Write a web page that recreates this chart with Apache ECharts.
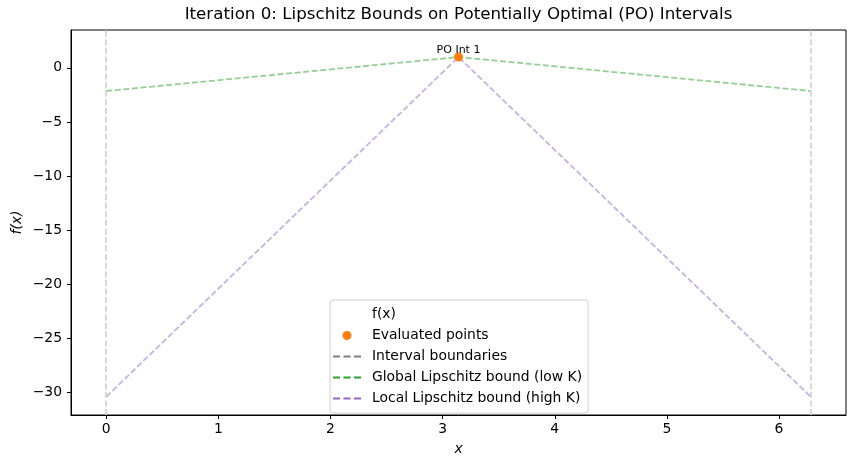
<!DOCTYPE html>
<html><head><meta charset="utf-8">
<script src="https://cdn.jsdelivr.net/npm/echarts@6/dist/echarts.min.js"></script>
<style>html,body{margin:0;padding:0;background:#fff}#c{width:855px;height:468px}</style>
</head><body><div id="c"></div>
<script>
const xTicks = [0, 1, 2, 3, 4, 5, 6];
const yTicks = [-30, -25, -20, -15, -10, -5, 0];
const evalX = [3.1416];
const evalY = [1];
const poLabels = ['PO Int 1'];
const boundaryX = [0, 6.2832];
const boundX = [0, 3.1416, 6.2832];
const lowKY = [-2.1416, 1, -2.1416];
const highKY = [-30.416, 1, -30.416];

const FONT = 'DejaVu Sans';
const minus = v => (v < 0 ? '\u2212' + Math.abs(v) : String(v));
const dashIcon = 'path://M0,0h7v2h-7z M10.5,0h7v2h-7z M21,0h7v2h-7z';

const chart = echarts.init(document.getElementById('c'), null, {renderer: 'canvas'});
chart.setOption({
  animation: false,
  backgroundColor: '#fff',
  title: {
    text: 'Iteration 0: Lipschitz Bounds on Potentially Optimal (PO) Intervals',
    left: 458.5, textAlign: 'center', top: 6, padding: 0,
    textStyle: {fontFamily: FONT, fontSize: 16.7, fontWeight: 'normal', color: '#000'}
  },
  grid: {left: 71, right: 9, top: 30, bottom: 53, show: true, borderColor: '#000', borderWidth: 1, backgroundColor: 'transparent'},
  xAxis: {
    type: 'value', min: -0.3142, max: 6.5974,
    name: 'x', nameLocation: 'middle', nameGap: 27,
    nameTextStyle: {fontFamily: FONT, fontSize: 13.9, fontStyle: 'italic', color: '#000'},
    axisLine: {show: true, onZero: false, lineStyle: {color: '#000', width: 1}},
    axisTick: {show: true, length: 4, customValues: xTicks, lineStyle: {color: '#000'}},
    axisLabel: {customValues: xTicks, formatter: minus, margin: 7, fontFamily: FONT, fontSize: 13.9, color: '#000'},
    splitLine: {show: false}
  },
  yAxis: {
    type: 'value', min: -32.1, max: 3.5,
    name: 'f(x)', nameLocation: 'middle', nameGap: 47, nameMoveOverlap: false,
    nameTextStyle: {fontFamily: FONT, fontSize: 13.9, fontStyle: 'italic', color: '#000'},
    axisLine: {show: true, onZero: false, lineStyle: {color: '#000', width: 1}},
    axisTick: {show: true, length: 4, customValues: yTicks, lineStyle: {color: '#000'}},
    axisLabel: {customValues: yTicks, formatter: minus, margin: 9, fontFamily: FONT, fontSize: 13.9, color: '#000'},
    splitLine: {show: false}
  },
  legend: {
    orient: 'vertical', left: 330, top: 300,
    padding: [4, 6, 4, 3],
    backgroundColor: '#fff', borderColor: '#d0d0d0', borderWidth: 1, borderRadius: 3,
    itemWidth: 28, itemHeight: 9, itemGap: 0,
    textStyle: {fontFamily: FONT, fontSize: 13.9, color: '#000', lineHeight: 21, padding: [0, 0, 0, 6]},
    data: [
      {name: 'f(x)', icon: 'none'},
      {name: 'Evaluated points', icon: 'circle', itemStyle: {color: '#ff7f0e'}},
      {name: 'Interval boundaries', icon: dashIcon, itemStyle: {color: '#808080'}},
      {name: 'Global Lipschitz bound (low K)', icon: dashIcon, itemStyle: {color: '#2ca02c'}},
      {name: 'Local Lipschitz bound (high K)', icon: dashIcon, itemStyle: {color: '#9467bd'}}
    ]
  },
  series: [
    {name: 'f(x)', type: 'line', data: [], color: '#1f77b4'},
    {
      name: 'Interval boundaries', type: 'line', data: [], color: '#808080',
      markLine: {
        silent: true, symbol: 'none', label: {show: false},
        lineStyle: {color: '#d5d5d5', width: 1.8, type: [6, 2.6]},
        data: boundaryX.map(v => ({xAxis: v}))
      }
    },
    {
      name: 'Global Lipschitz bound (low K)', type: 'line', color: '#96cf96', symbol: 'none',
      lineStyle: {color: '#96cf96', width: 1.8, type: [6, 2.6]},
      data: boundX.map((x, i) => [x, lowKY[i]])
    },
    {
      name: 'Local Lipschitz bound (high K)', type: 'line', color: '#c9b3de', symbol: 'none',
      lineStyle: {color: '#c9b3de', width: 1.8, type: [6, 2.6]},
      data: boundX.map((x, i) => [x, highKY[i]])
    },
    {
      name: 'Evaluated points', type: 'scatter', color: '#ff7f0e', symbolSize: 9, z: 5,
      itemStyle: {color: '#ff7f0e', opacity: 1},
      label: {
        show: true, position: 'top', distance: -3,
        formatter: p => poLabels[p.dataIndex],
        fontFamily: FONT, fontSize: 11, color: '#000'
      },
      data: evalX.map((x, i) => [x, evalY[i]])
    }
  ]
});
</script></body></html>
